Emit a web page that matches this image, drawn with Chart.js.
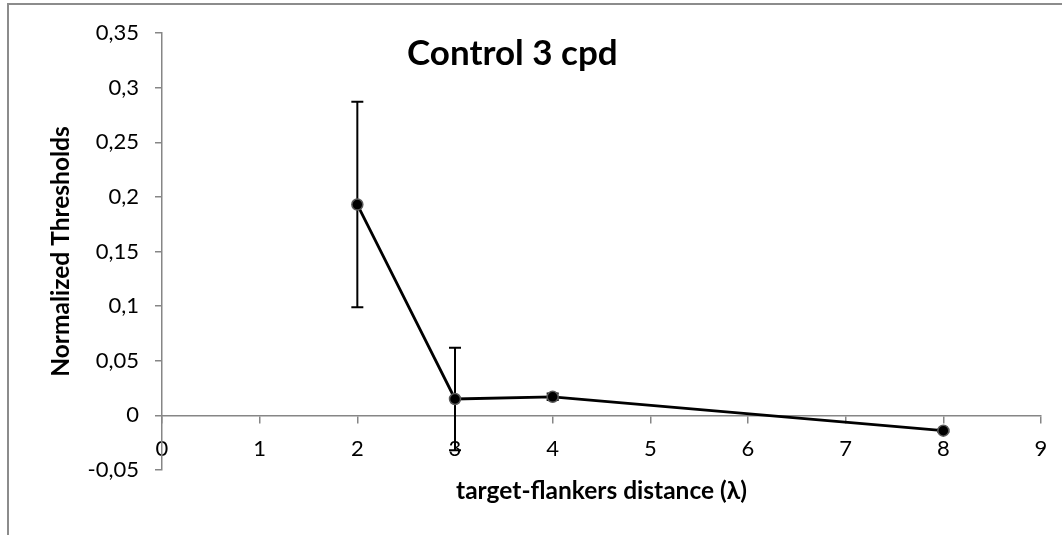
<!DOCTYPE html>
<html>
<head>
<meta charset="utf-8">
<script src="https://cdn.jsdelivr.net/npm/chart.js@4.4.1/dist/chart.umd.min.js"></script>
<style>
  html, body { margin: 0; padding: 0; background: #fff; overflow: hidden; }
  #wrap { position: relative; width: 1062px; height: 535px; }
  #frame { position: absolute; left: 7px; top: 3px; width: 1100px; height: 600px;
           border-top: 2px solid #8c8c8c; border-left: 2px solid #8c8c8c; }
  #chartTitle { position: absolute; left: 407px; top: 30px; font: bold 35px Lato, sans-serif; color: #000; }
  canvas { position: absolute; left: 0; top: 0; }
</style>
</head>
<body>
<div id="wrap">
  <div id="frame"></div>
  <canvas id="chart" width="1062" height="535"></canvas>
  <div id="chartTitle">Control 3 cpd</div>
</div>
<script>
// data
const distances = [2, 3, 4, 8];
const thresholds = [0.193, 0.015, 0.017, -0.014];
const errors = [0.094, 0.047, 0.003, 0.001];

const yTicksMin = -0.05, yTicksMax = 0.35, yStep = 0.05;
const xTicksMin = 0, xTicksMax = 9;

const axisGrey = '#868686';

function fmt(v) {
    return (Math.round(v * 100) / 100).toString().replace('.', ',');
}

// draws vertical error bars under the points, positioned via the chart scales
const errorBars = {
    id: 'errorBars',
    beforeDatasetsDraw(chart) {
        const ctx = chart.ctx;
        const xs = chart.scales.x, ys = chart.scales.y;
        ctx.save();
        ctx.strokeStyle = '#000';
        ctx.lineWidth = 2;
        for (let i = 0; i < distances.length; i++) {
            const px = xs.getPixelForValue(distances[i]);
            const top = ys.getPixelForValue(thresholds[i] + errors[i]);
            const bot = ys.getPixelForValue(thresholds[i] - errors[i]);
            ctx.beginPath();
            ctx.moveTo(px, top); ctx.lineTo(px, bot);
            ctx.moveTo(px - 6, top); ctx.lineTo(px + 6, top);
            ctx.moveTo(px - 6, bot); ctx.lineTo(px + 6, bot);
            ctx.stroke();
        }
        ctx.restore();
    }
};

new Chart(document.getElementById('chart'), {
    type: 'scatter',
    data: {
        datasets: [{
            label: 'Control 3 cpd',
            data: distances.map((d, i) => ({ x: d, y: thresholds[i] })),
            showLine: true,
            borderColor: '#000',
            borderWidth: 2.8,
            pointRadius: 5.5,
            pointBackgroundColor: '#000',
            pointBorderColor: '#5a5a5a',
            pointBorderWidth: 1.5
        }]
    },
    options: {
        responsive: false,
        animation: false,
        layout: { padding: { left: 0, top: 33, right: 21, bottom: 65 } },
        plugins: { legend: { display: false }, tooltip: { enabled: false } },
        scales: {
            x: {
                type: 'linear',
                position: { y: 0 },
                min: xTicksMin, max: xTicksMax,
                ticks: { stepSize: 1, color: '#000', padding: 13, font: { family: 'Lato', size: 22 } },
                grid: { drawOnChartArea: false, drawTicks: true, tickLength: 7, color: axisGrey, lineWidth: 1.5 },
                border: { color: axisGrey, width: 1.5 },
                title: { display: true, text: 'target-flankers distance (λ)', color: '#000',
                         font: { family: 'Lato', size: 24.5, weight: 'bold' }, padding: { top: 2, bottom: 0 } }
            },
            y: {
                min: yTicksMin, max: yTicksMax,
                afterFit(scale) { scale.width = 162; },
                ticks: { stepSize: yStep, color: '#000', padding: 16, font: { family: 'Lato', size: 22 },
                         callback: (v) => fmt(v) },
                grid: { drawOnChartArea: false, drawTicks: true, tickLength: 7, color: axisGrey, lineWidth: 1.5 },
                border: { color: axisGrey, width: 1.5 },
                title: { display: true, text: 'Normalized Thresholds', color: '#000',
                         font: { family: 'Lato', size: 24.5, weight: 'bold' }, padding: { top: 46, bottom: 0 } }
            }
        }
    },
    plugins: [errorBars]
});
</script>
</body>
</html>
